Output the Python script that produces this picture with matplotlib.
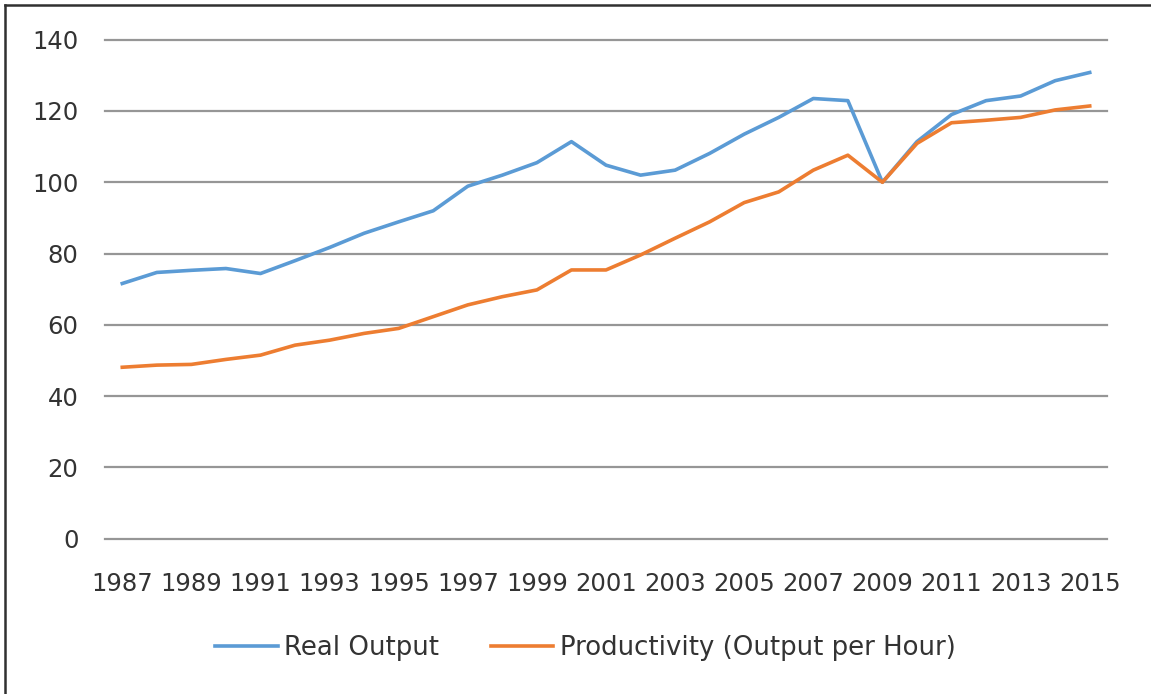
import matplotlib
matplotlib.use("Agg")
import matplotlib.pyplot as plt
from matplotlib.lines import Line2D

years = list(range(1987, 2016))
real_output = [71.6, 74.7, 75.3, 75.8, 74.4, 78.0, 81.7, 85.7, 88.9, 92.0,
               98.9, 102.0, 105.5, 111.4, 104.8, 102.0, 103.4, 108.1, 113.5, 118.2,
               123.5, 122.9, 100.0, 111.4, 119.0, 122.9, 124.2, 128.5, 130.8]
productivity = [48.1, 48.7, 48.9, 50.3, 51.5, 54.3, 55.7, 57.6, 59.0, 62.3,
                65.6, 67.9, 69.8, 75.4, 75.4, 79.6, 84.3, 88.9, 94.3, 97.3,
                103.4, 107.6, 100.0, 110.9, 116.7, 117.4, 118.2, 120.3, 121.4]
series_names = ["Real Output", "Productivity (Output per Hour)"]
y_ticks = [0, 20, 40, 60, 80, 100, 120, 140]

W, H = 1151, 694
fig = plt.figure(figsize=(W / 100, H / 100), dpi=100)
fig.patch.set_facecolor("white")

left, right = 105 / W, 1107 / W
bottom, top = (H - 538.7) / H, (H - 39.7) / H
ax = fig.add_axes([left, bottom, right - left, top - bottom])

text_color = "#333333"
fs = 17.5
blue = "#5B9BD5"
orange = "#ED7D31"

x = list(range(len(years)))
ax.plot(x, real_output, color=blue, lw=2.6, solid_joinstyle="round", zorder=3)
ax.plot(x, productivity, color=orange, lw=2.6, solid_joinstyle="round", zorder=3)

ax.set_xlim(-0.5, len(years) - 0.5)
ax.set_ylim(0, 140)
ax.set_yticks(y_ticks)
ax.set_yticklabels([str(v) for v in y_ticks])
ax.set_xticks(x[::2])
ax.set_xticklabels([str(y) for y in years[::2]])
ax.tick_params(axis="both", length=0, labelsize=fs, labelcolor=text_color)
ax.tick_params(axis="x", pad=24)
ax.tick_params(axis="y", pad=19)
ax.grid(axis="y", color="#969696", lw=1.6, zorder=0)
for gl in ax.yaxis.get_gridlines():
    gl.set_clip_on(False)
for s in ax.spines.values():
    s.set_visible(False)

handles = [Line2D([], [], color=blue, lw=2.6), Line2D([], [], color=orange, lw=2.6)]
fig.legend(handles, series_names, loc="center", bbox_to_anchor=(0.5087, (H - 648) / H),
           ncol=2, frameon=False, fontsize=18.7, labelcolor=text_color,
           handlelength=2.4, handletextpad=0.25, columnspacing=2.0)

# chart border (top and left edges visible in the reference)
fig.add_artist(Line2D([5 / W, 1], [1 - 4.5 / H, 1 - 4.5 / H], transform=fig.transFigure,
                      color="#303030", lw=1.8))
fig.add_artist(Line2D([5 / W, 5 / W], [0, 1 - 4.5 / H], transform=fig.transFigure,
                      color="#303030", lw=1.8))

fig.savefig("out.png", dpi=100)
